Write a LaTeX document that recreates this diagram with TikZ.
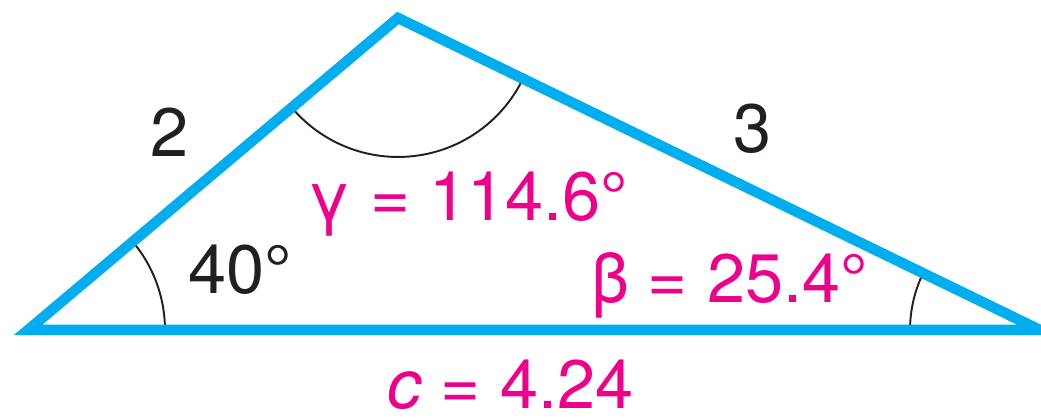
\documentclass[tikz,border=0pt]{standalone}
\usepackage{fontspec}
\setmainfont{TeX Gyre Heros}
\usetikzlibrary{angles}
\definecolor{triblue}{HTML}{00AEEF}
\definecolor{valpink}{HTML}{EC008C}
\definecolor{givdark}{HTML}{231F20}

\begin{document}
\begin{tikzpicture}[x=0.02cm,y=0.02cm,
  lbl/.style={inner sep=0pt,anchor=base west,font=\fontsize{39}{47}\selectfont}]
\useasboundingbox (0,0) rectangle (1041,418);
\coordinate (A) at (28,88);
\coordinate (B) at (398,400);
\coordinate (C) at (1040,88);

\pic[draw=givdark,line width=1.1pt,angle radius=2.74cm] {angle=C--A--B};
\pic[draw=givdark,line width=1.1pt,angle radius=2.78cm] {angle=A--B--C};
\pic[draw=givdark,line width=1.1pt,angle radius=2.6cm] {angle=B--C--A};

\draw[triblue,line width=0.21cm] (A) -- (B) -- (C) -- cycle;

\node[lbl,text=givdark] (sideb) at (150,261) {2};
\node[lbl,text=givdark] (sidea) at (733,265) {3};
\node[lbl,text=givdark] (angA) at (188,124) {40°};
\node[lbl,text=valpink] (angC) at (307,197) {γ = 114.6°};
\node[lbl,text=valpink] (angB) at (591,115) {β = 25.4°};
\node[lbl,text=valpink] (sidec) at (387,9) {\textit{c} = 4.24};
\end{tikzpicture}
\end{document}
